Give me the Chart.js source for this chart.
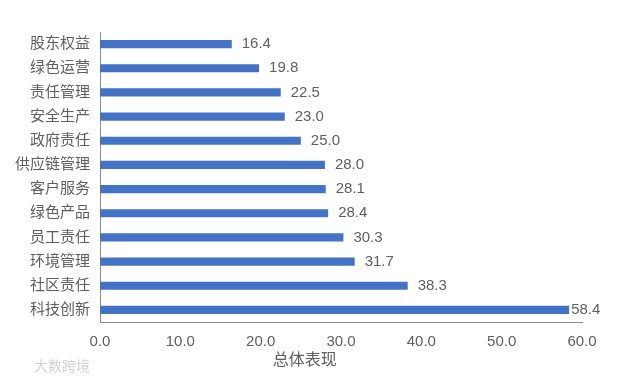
<!DOCTYPE html>
<html>
<head>
<meta charset="utf-8">
<script src="https://cdn.jsdelivr.net/npm/chart.js@4/dist/chart.umd.min.js"></script>
<style>
  html, body { margin: 0; padding: 0; background: #fff; }
  #wrap { width: 637px; height: 380px; }
</style>
</head>
<body>
<div id="wrap"><canvas id="bar-chart"></canvas></div>
<script>
const categories = ["股东权益", "绿色运营", "责任管理", "安全生产", "政府责任", "供应链管理", "客户服务", "绿色产品", "员工责任", "环境管理", "社区责任", "科技创新"];
const scores = [16.4, 19.8, 22.5, 23.0, 25.0, 28.0, 28.1, 28.4, 30.3, 31.7, 38.3, 58.4];
const xTicks = [0, 10, 20, 30, 40, 50, 60];
const axisTitle = "总体表现";

const FONT = "'Liberation Sans', 'Noto Sans CJK SC', sans-serif";
const TEXT = "#5f5f5f";

// values written just right of each bar
const barLabels = {
  id: 'barLabels',
  afterDatasetsDraw(chart) {
    const ctx = chart.ctx;
    ctx.save();
    ctx.font = "15px " + FONT;
    ctx.fillStyle = TEXT;
    ctx.textAlign = 'left';
    ctx.textBaseline = 'middle';
    chart.getDatasetMeta(0).data.forEach((bar, i) => {
      ctx.fillText(scores[i].toFixed(1), bar.x + 2 + (i === scores.length - 1 ? 0 : 8), bar.y);
    });
    ctx.restore();
  }
};

// axis title sits a bit left of centre, like the original
const xTitle = {
  id: 'xTitle',
  afterDraw(chart) {
    const ctx = chart.ctx;
    const x = chart.scales.x;
    ctx.save();
    ctx.font = "16px " + FONT;
    ctx.fillStyle = TEXT;
    ctx.textAlign = 'center';
    ctx.textBaseline = 'middle';
    ctx.fillText(axisTitle, x.getPixelForValue(25.5), x.top + 39);
    ctx.font = "14px " + FONT;
    ctx.fillStyle = "rgba(200,200,200,0.8)";
    ctx.textAlign = 'left';
    ctx.fillText("大数跨境", 34, 367);
    ctx.restore();
  }
};

new Chart(document.getElementById("bar-chart"), {
  type: 'bar',
  data: {
    labels: categories,
    datasets: [{
      label: axisTitle,
      data: scores,
      backgroundColor: "#4472C4",
      categoryPercentage: 1,
      barPercentage: 0.34
    }]
  },
  options: {
    indexAxis: 'y',
    responsive: true,
    maintainAspectRatio: false,
    animation: false,
    layout: { padding: { top: 32, right: 55, bottom: 0, left: 0 } },
    plugins: {
      legend: { display: false },
      tooltip: { enabled: false }
    },
    scales: {
      y: {
        grid: { display: false, drawTicks: false },
        border: { display: true, color: "#8c8c8c", width: 1 },
        ticks: { color: TEXT, font: { family: FONT, size: 15 }, padding: 10 },
        afterFit(s) { s.width = 100; }
      },
      x: {
        min: 0,
        max: 60,
        grid: { display: false, drawTicks: false },
        border: { display: true, color: "#8c8c8c", width: 1 },
        afterBuildTicks(s) { s.ticks = xTicks.map(v => ({ value: v })); },
        ticks: {
          color: TEXT,
          font: { family: FONT, size: 15 },
          padding: 11,
          callback: v => Number(v).toFixed(1)
        },
        afterFit(s) { s.height = 58; }
      }
    }
  },
  plugins: [barLabels, xTitle]
});
</script>
</body>
</html>
